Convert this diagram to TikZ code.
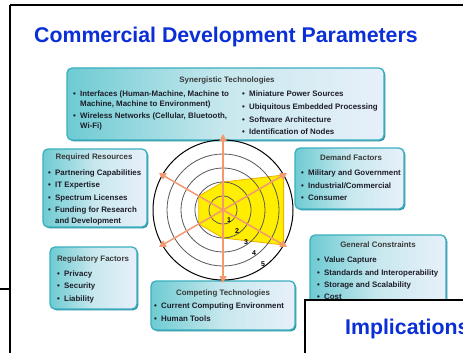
\documentclass[tikz,border=0pt]{standalone}
\usepackage{fontspec}
\setmainfont{Liberation Sans}
\usetikzlibrary{arrows.meta}
\definecolor{ttlblue}{HTML}{0B2FD6}
\definecolor{boxedge}{HTML}{3AAFC0}
\definecolor{boxshadow}{HTML}{2A8FA0}
\definecolor{boxleft}{HTML}{6ECBD2}
\definecolor{boxmid}{HTML}{C8E8EE}
\definecolor{boxright}{HTML}{E8F0FA}
\definecolor{axisor}{HTML}{F59870}
\definecolor{radyel}{HTML}{FFEE00}
\definecolor{radedge}{HTML}{F0B000}
\definecolor{itemtxt}{HTML}{1E1E2A}
\definecolor{headtxt}{HTML}{3A3A3A}
\tikzset{
  panel/.style={rounded corners=5pt, draw=boxedge, line width=1.3pt, left color=boxleft, right color=boxright, middle color=boxmid},
  panelshadow/.style={rounded corners=5pt, fill=boxshadow},
  hd/.style={font=\fontsize{7.9}{9}\selectfont\bfseries, text=headtxt, inner sep=0pt, anchor=base},
  itm/.style={font=\fontsize{7.9}{9}\selectfont\bfseries, text=itemtxt, inner sep=0pt, anchor=base west},
  slideline/.style={line width=2pt, draw=black},
  ax/.style={draw=axisor, line width=1.5pt, -{Triangle[length=7pt,width=7pt]}},
  ring/.style={draw=black!65, line width=0.8pt},
  outerring/.style={draw=black, line width=1pt},
  bigtitle/.style={font=\fontsize{21.3}{24}\selectfont\bfseries, text=ttlblue, inner sep=0pt, anchor=base west},
  num/.style={font=\fontsize{7}{8}\selectfont\bfseries, inner sep=0pt},
}
\newcommand{\bulitem}[4]{% name, x, y, text
  \node[itm] (#1b) at (#2-7,#3) {•};
  \node[itm] (#1) at (#2,#3) {#4};}
\begin{document}
\begin{tikzpicture}[x=1pt,y=-1pt]
\useasboundingbox (0,0) rectangle (463,353);
\clip (0,0) rectangle (463,353);
\fill[white] (0,0) rectangle (463,353);
% main slide border
\draw[slideline] (10,5) -- (470,5);
\draw[slideline] (10,5) -- (10,360);
\draw[slideline] (-5,289) -- (10,289);
% title
\node[bigtitle] (title) at (34,43) {Commercial Development Parameters};

% ---- panels ----
% Synergistic Technologies
\fill[panelshadow] (68.3,69.3) rectangle (385.3,141.3);
\draw[panel] (67,68) rectangle (384,140);
\node[hd] (synh) at (227,82) {Synergistic Technologies};
\bulitem{s1}{80}{96}{Interfaces (Human-Machine, Machine to}
\node[itm] (s1b2) at (80,106) {Machine, Machine to Environment)};
\bulitem{s2}{80}{118}{Wireless Networks (Cellular, Bluetooth,}
\node[itm] (s2b2) at (80,128) {Wi-Fi)};
\bulitem{s3}{249}{96}{Miniature Power Sources}
\bulitem{s4}{249}{109}{Ubiquitous Embedded Processing}
\bulitem{s5}{249}{122}{Software Architecture}
\bulitem{s6}{249}{134}{Identification of Nodes}

% Required Resources
\fill[panelshadow] (44.3,150.3) rectangle (148.3,228.3);
\draw[panel] (43,149) rectangle (147,227);
\node[hd] (reqh) at (94,159) {Required Resources};
\bulitem{r1}{55}{175}{Partnering Capabilities}
\bulitem{r2}{55}{187}{IT Expertise}
\bulitem{r3}{55}{200}{Spectrum Licenses}
\bulitem{r4}{55}{212}{Funding for Research}
\node[itm] (r4b2) at (55,223) {and Development};

% Demand Factors
\fill[panelshadow] (296.3,149.3) rectangle (405.3,210.3);
\draw[panel] (295,148) rectangle (404,209);
\node[hd] (demh) at (351,160) {Demand Factors};
\bulitem{d1}{308}{175}{Military and Government}
\bulitem{d2}{308}{188}{Industrial/Commercial}
\bulitem{d3}{308}{200}{Consumer}

% General Constraints
\fill[panelshadow] (311.3,236.3) rectangle (447.3,311.3);
\draw[panel] (310,235) rectangle (446,310);
\node[hd] (genh) at (378,247) {General Constraints};
\bulitem{g1}{324}{262}{Value Capture}
\bulitem{g2}{324}{275}{Standards and Interoperability}
\bulitem{g3}{324}{287}{Storage and Scalability}
\bulitem{g4}{324}{299}{Cost}

% Regulatory Factors
\fill[panelshadow] (51.3,248.3) rectangle (138.3,310.3);
\draw[panel] (50,247) rectangle (137,309);
\node[hd] (regh) at (93,261) {Regulatory Factors};
\bulitem{g5}{64}{276}{Privacy}
\bulitem{g6}{64}{288}{Security}
\bulitem{g7}{64}{301}{Liability}

% Competing Technologies
\fill[panelshadow] (152.3,282.3) rectangle (296.3,331.3);
\draw[panel] (151,281) rectangle (295,330);
\node[hd] (comh) at (223,295) {Competing Technologies};
\bulitem{c1}{161}{308}{Current Computing Environment}
\bulitem{c2}{161}{321}{Human Tools}

% ---- radar ----
\coordinate (c) at (223,210);
\fill[radyel, draw=radedge, line width=0.8pt]
  (223,182) -- (283.6,175) -- (283.6,245) -- (223,238) -- (198.75,224) -- (198.75,196) -- cycle;
\draw[ring] (c) circle[radius=14pt];
\draw[ring] (c) circle[radius=28pt];
\draw[ring] (c) circle[radius=42pt];
\draw[ring] (c) circle[radius=56pt];
\draw[outerring] (c) circle[radius=70pt];
\coordinate (aU) at (223,134);
\coordinate (aD) at (223,283);
\coordinate (aUR) at (287.1,173);
\coordinate (aDR) at (287.1,247);
\coordinate (aUL) at (158.9,173);
\coordinate (aDL) at (158.9,247);
\draw[ax] (c) -- (aU);
\draw[ax] (c) -- (aD);
\draw[ax] (c) -- (aUR);
\draw[ax] (c) -- (aDR);
\draw[ax] (c) -- (aUL);
\draw[ax] (c) -- (aDL);
\node[num] (n1) at (229,220) {1};
\node[num] (n2) at (237,231) {2};
\node[num] (n3) at (246,242) {3};
\node[num] (n4) at (254,253) {4};
\node[num] (n5) at (263,264) {5};

% ---- overlapping slide ----
\fill[white] (305,300) rectangle (470,360);
\draw[slideline] (305,360) -- (305,300) -- (470,300);
\node[bigtitle] (impl) at (345,334) {Implications};
\end{tikzpicture}
\end{document}
